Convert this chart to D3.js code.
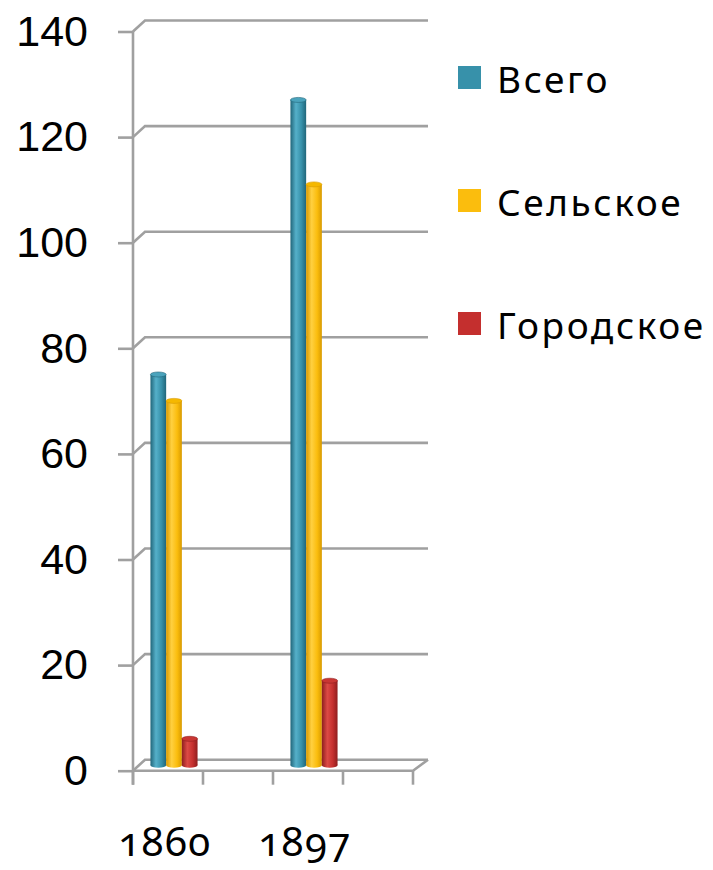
<!DOCTYPE html>
<html>
<head>
<meta charset="utf-8">
<script src="https://cdn.jsdelivr.net/npm/d3@7"></script>
<style>
    body { margin: 0; background: #fff; }
    svg { display: block; }
</style>
</head>
<body>
<div id="chart"></div>
<script>
// chart data
const categories = ["1860", "", "1897", ""];
const seriesNames = ["Всего", "Сельское", "Городское"];
const totalValues = [74, null, 126, null];
const ruralValues = [69, null, 110, null];
const urbanValues = [5, null, 16, null];
const yTicks = [0, 20, 40, 60, 80, 100, 120, 140];

const seriesValues = [totalValues, ruralValues, urbanValues];
const colors = [
    { flat: "#3791aa", dark: "#21667a", light: "#55b0c9", cap: "#4aa3bc" },
    { flat: "#fbbd0d", dark: "#d89a00", light: "#ffd040", cap: "#f5b800" },
    { flat: "#c42f2e", dark: "#8e1e1e", light: "#dc4a45", cap: "#c93633" }
];

const width = 713, height = 870;
const depthX = 12, depthY = -11; // 3d offset of the back wall

const svg = d3.select("#chart")
    .append("svg")
    .attr("width", width)
    .attr("height", height);

const y = d3.scaleLinear()
    .domain([0, 140])
    .range([770.7, 31.5]);

const x = d3.scaleBand()
    .domain(d3.range(categories.length))
    .range([133, 413])
    .padding(0);

const grey = "#a0a0a0";

// back wall gridlines
const grid = svg.append("g").attr("stroke", grey).attr("stroke-width", 2.6).attr("fill", "none");
yTicks.forEach(t => {
    grid.append("path")
        .attr("d", `M${x.range()[0]},${y(t)} L${x.range()[0] + depthX},${y(t) + depthY} L${x.range()[1] + depthX + 3},${y(t) + depthY}`);
});
// floor
grid.append("path")
    .attr("d", `M${x.range()[0]},${y(0)} L${x.range()[1]},${y(0)} L${x.range()[1] + depthX + 3},${y(0) + depthY}`);

// left axis
const yAxis = svg.append("g")
    .attr("transform", `translate(${x.range()[0]},0)`)
    .call(d3.axisLeft(y).tickValues(yTicks).tickSize(15).tickPadding(30).tickSizeOuter(0));
yAxis.select(".domain").remove();
yAxis.selectAll("line").attr("stroke", grey).attr("stroke-width", 2.6);
yAxis.selectAll("text")
    .attr("fill", "#000")
    .style("font-family", "'Liberation Sans', Arial, sans-serif")
    .style("font-size", "43px");
svg.append("line")
    .attr("x1", x.range()[0]).attr("x2", x.range()[0])
    .attr("y1", y(140)).attr("y2", y(0) + 14)
    .attr("stroke", grey).attr("stroke-width", 2.6);

// bottom ticks at band edges
const edges = d3.range(categories.length + 1).map(i => x.range()[0] + i * x.step());
svg.append("g").selectAll("line")
    .data(edges)
    .enter()
    .append("line")
    .attr("x1", d => d).attr("x2", d => d)
    .attr("y1", y(0)).attr("y2", y(0) + 14)
    .attr("stroke", grey).attr("stroke-width", 2.6);

// category labels
svg.append("g").selectAll("text")
    .data(categories)
    .enter()
    .append("text")
    .attr("x", (d, i) => x(i) + x.bandwidth() / 2 - 3)
    .attr("y", 856)
    .attr("text-anchor", "middle")
    .style("font-family", "'Noto Sans', sans-serif")
    .style("font-size", "40px")
    .style("font-variant-numeric", "oldstyle-nums")
    .style("letter-spacing", "1.5px")
    .text(d => d);

// gradients for cylinders
const defs = svg.append("defs");
colors.forEach((c, i) => {
    const g = defs.append("linearGradient")
        .attr("id", "cyl" + i)
        .attr("x1", "0%").attr("x2", "100%").attr("y1", "0%").attr("y2", "0%");
    g.append("stop").attr("offset", "0%").attr("stop-color", c.dark);
    g.append("stop").attr("offset", "35%").attr("stop-color", c.light);
    g.append("stop").attr("offset", "70%").attr("stop-color", c.flat);
    g.append("stop").attr("offset", "100%").attr("stop-color", c.dark);
});

// bars, drawn at half depth
const barW = 15.7;
const groupW = barW * seriesNames.length;
const midX = depthX / 2, midY = depthY / 2;
const barData = [];
categories.forEach((cat, ci) => {
    seriesValues.forEach((vals, si) => {
        if (vals[ci] == null) return;
        barData.push({ ci: ci, si: si, value: vals[ci] });
    });
});

const bars = svg.append("g").selectAll("g")
    .data(barData)
    .enter()
    .append("g");
const bx = d => x(d.ci) + x.bandwidth() / 2 - groupW / 2 + midX + d.si * barW;
bars.append("ellipse")
    .attr("cx", d => bx(d) + barW / 2)
    .attr("cy", y(0) + midY)
    .attr("rx", barW / 2)
    .attr("ry", 2.5)
    .attr("fill", d => "url(#cyl" + d.si + ")");
bars.append("rect")
    .attr("x", bx)
    .attr("y", d => y(d.value) + midY)
    .attr("width", barW)
    .attr("height", d => y(0) - y(d.value))
    .attr("fill", d => "url(#cyl" + d.si + ")");
bars.append("ellipse")
    .attr("cx", d => bx(d) + barW / 2)
    .attr("cy", d => y(d.value) + midY)
    .attr("rx", barW / 2)
    .attr("ry", 2.5)
    .attr("fill", d => colors[d.si].cap)
    .attr("stroke", d => colors[d.si].dark)
    .attr("stroke-width", 0.6);

// legend
const legend = svg.append("g").selectAll("g")
    .data(seriesNames)
    .enter()
    .append("g")
    .attr("transform", (d, i) => `translate(458,${66 + i * 123})`);
legend.append("rect")
    .attr("width", 23)
    .attr("height", 23)
    .attr("fill", (d, i) => colors[i].flat);
legend.append("text")
    .attr("x", 39)
    .attr("y", 27)
    .style("font-family", "'Noto Sans', sans-serif")
    .style("font-size", "37px")
    .style("letter-spacing", "2.6px")
    .attr("fill", "#000")
    .text(d => d);
</script>
</body>
</html>
